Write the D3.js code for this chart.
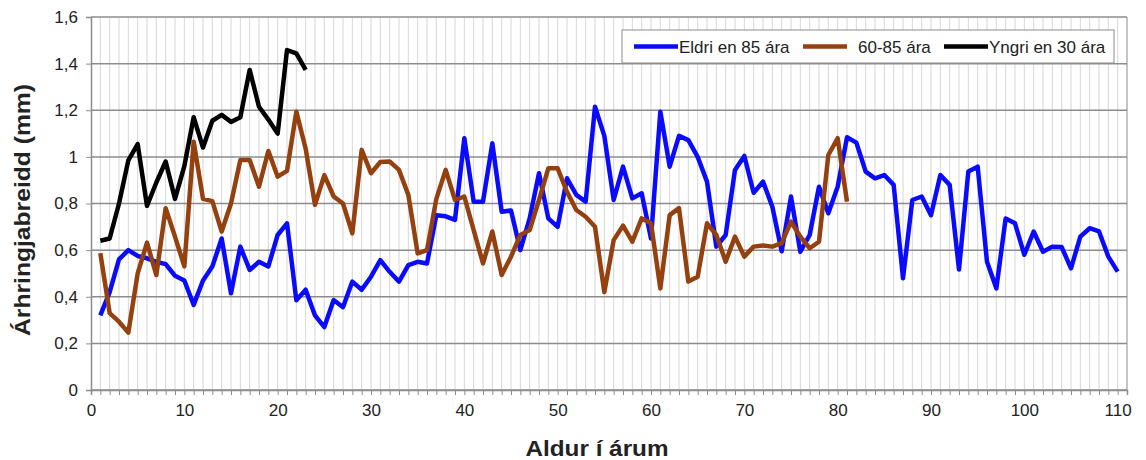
<!DOCTYPE html>
<html>
<head>
<meta charset="utf-8">
<script src="https://cdn.jsdelivr.net/npm/d3@7"></script>
<style>
  body { margin: 0; background: #fff; }
  svg { font-family: 'Liberation Sans', Arial, sans-serif; }
</style>
</head>
<body>
<div class="chart"></div>
<script>
// Árhringjabreidd (mm) eftir aldri, þrír aldurshópar trjáa
var eldri = [0.32, 0.42, 0.56, 0.60, 0.575, 0.565, 0.55, 0.54, 0.49, 0.47,
             0.365, 0.47, 0.53, 0.65, 0.415, 0.615, 0.515, 0.55, 0.53, 0.665,
             0.715, 0.385, 0.43, 0.32, 0.27, 0.386, 0.355, 0.465, 0.43, 0.486,
             0.557, 0.507, 0.465, 0.536, 0.55, 0.543, 0.75, 0.745, 0.73, 1.08,
             0.808, 0.808, 1.058, 0.765, 0.77, 0.60, 0.736, 0.93, 0.736, 0.70,
             0.908, 0.837, 0.808, 1.215, 1.09, 0.815, 0.958, 0.822, 0.844, 0.65,
             1.194, 0.958, 1.09, 1.072, 1.0, 0.894, 0.615, 0.665, 0.944, 1.004,
             0.846, 0.894, 0.786, 0.595, 0.83, 0.593, 0.665, 0.872, 0.758, 0.872,
             1.084, 1.061, 0.937, 0.908, 0.922, 0.88, 0.479, 0.815, 0.83, 0.75,
             0.922, 0.88, 0.517, 0.937, 0.958, 0.55, 0.436, 0.736, 0.715, 0.58,
             0.68, 0.593, 0.615, 0.613, 0.522, 0.658, 0.694, 0.68, 0.572, 0.508];

var midaldra = [0.587, 0.33, 0.293, 0.246, 0.50, 0.632, 0.493, 0.78, 0.658, 0.53,
                1.065, 0.82, 0.81, 0.68, 0.80, 0.987, 0.987, 0.872, 1.025, 0.915,
                0.94, 1.194, 1.035, 0.794, 0.922, 0.83, 0.80, 0.672, 1.03, 0.93,
                0.978, 0.98, 0.944, 0.837, 0.586, 0.60, 0.82, 0.944, 0.815, 0.83,
                0.686, 0.543, 0.68, 0.493, 0.572, 0.665, 0.686, 0.815, 0.951, 0.951,
                0.85, 0.772, 0.743, 0.70, 0.42, 0.643, 0.705, 0.636, 0.736, 0.715,
                0.436, 0.75, 0.78, 0.465, 0.486, 0.715, 0.665, 0.55, 0.658, 0.572,
                0.615, 0.62, 0.615, 0.63, 0.722, 0.658, 0.608, 0.636, 1.008, 1.08,
                0.808];

var yngri = [0.64, 0.65, 0.80, 0.985, 1.055, 0.79, 0.89, 0.98, 0.82, 0.96,
             1.17, 1.04, 1.155, 1.18, 1.15, 1.17, 1.373, 1.215, 1.16, 1.10,
             1.458, 1.444, 1.373];

var seriesNames = ['Eldri en 85 ára', '60-85 ára', 'Yngri en 30 ára'];
var yTicks = [0, 0.2, 0.4, 0.6, 0.8, 1, 1.2, 1.4, 1.6];
var xTicks = [0, 10, 20, 30, 40, 50, 60, 70, 80, 90, 100, 110];

var colors = ['#0a0aff', '#94400f', '#000000'];

var margin = {top: 17, right: 19, bottom: 70, left: 91},
    width = 1146 - margin.left - margin.right,
    height = 460 - margin.top - margin.bottom;

var x = d3.scaleLinear().domain([0, 111]).range([0, width]);
var y = d3.scaleLinear().domain([0, 1.6]).range([height, 0]);

var svg = d3.select('.chart')
            .append('svg')
            .attr('width', width + margin.left + margin.right)
            .attr('height', height + margin.top + margin.bottom)
            .append('g')
            .attr('transform', 'translate(' + margin.left + ',' + margin.top + ')');

// minor vertical gridlines, one per year
svg.append('g')
    .selectAll('line')
    .data(d3.range(1, 112))
    .enter().append('line')
    .attr('x1', d => x(d)).attr('x2', d => x(d))
    .attr('y1', 0).attr('y2', height)
    .attr('stroke', d => d === 111 ? '#8c8c8c' : '#d6d6d6')
    .attr('stroke-width', 1);

// horizontal gridlines
svg.append('g')
    .selectAll('line')
    .data(yTicks)
    .enter().append('line')
    .attr('x1', 0).attr('x2', width)
    .attr('y1', d => y(d)).attr('y2', d => y(d))
    .attr('stroke', '#8c8c8c')
    .attr('stroke-width', 1.5);

// x axis
var fmtX = d => xTicks.indexOf(d) >= 0 ? d : '';
var xAxis = d3.axisBottom(x).tickValues(d3.range(0, 112)).tickSize(5).tickPadding(9).tickFormat(fmtX);
var gx = svg.append('g')
    .attr('transform', 'translate(0,' + height + ')')
    .call(xAxis);

// y axis
var fmtY = d => String(+d.toFixed(1)).replace('.', ',');
var yAxis = d3.axisLeft(y).tickValues(yTicks).tickSize(5).tickPadding(8).tickFormat(fmtY);
var gy = svg.append('g').call(yAxis);

[gx, gy].forEach(function(g) {
    g.select('.domain').attr('stroke', '#8c8c8c').attr('stroke-width', 1.5);
    g.selectAll('.tick line').attr('stroke', '#8c8c8c');
    g.selectAll('.tick text').attr('font-size', 17).attr('fill', '#222');
});

// lines
var line = d3.line()
    .x((d, i) => x(i + 1))
    .y(d => y(d));

[eldri, midaldra, yngri].forEach(function(series, k) {
    svg.append('path')
        .datum(series)
        .attr('fill', 'none')
        .attr('stroke', colors[k])
        .attr('stroke-width', 4.5)
        .attr('stroke-linejoin', 'round')
        .attr('d', line);
});

// legend
var legend = svg.append('g').attr('transform', 'translate(' + (622 - margin.left) + ',' + (30 - margin.top) + ')');
legend.append('rect')
    .attr('width', 492).attr('height', 33)
    .attr('fill', '#fff').attr('stroke', '#8c8c8c').attr('stroke-width', 1);
var legendX = [12, 181, 322];
seriesNames.forEach(function(name, k) {
    var item = legend.append('g').attr('transform', 'translate(' + legendX[k] + ',16.5)');
    item.append('line')
        .attr('x1', 0).attr('x2', 44)
        .attr('stroke', colors[k]).attr('stroke-width', 4.5);
    item.append('text')
        .attr('x', k === 1 ? 55 : 45).attr('y', 6)
        .attr('font-size', 17).attr('fill', '#222')
        .text(name);
});

// axis titles
svg.append('text')
    .attr('transform', 'translate(' + (30 - margin.left) + ',' + (210 - margin.top) + ') rotate(-90)')
    .attr('text-anchor', 'middle')
    .attr('font-size', 22).attr('font-weight', 'bold').attr('fill', '#222')
    .attr('textLength', 252).attr('lengthAdjust', 'spacingAndGlyphs')
    .text('Árhringjabreidd (mm)');

svg.append('text')
    .attr('x', 597 - margin.left).attr('y', 456 - margin.top)
    .attr('text-anchor', 'middle')
    .attr('font-size', 22).attr('font-weight', 'bold').attr('fill', '#222')
    .attr('textLength', 143).attr('lengthAdjust', 'spacingAndGlyphs')
    .text('Aldur í árum');
</script>
</body>
</html>
